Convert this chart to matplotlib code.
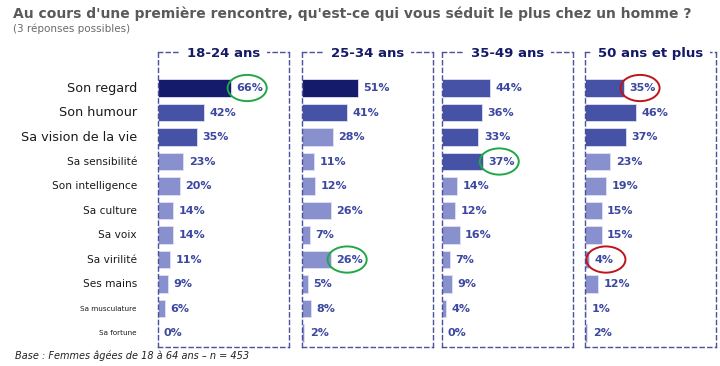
import matplotlib.pyplot as plt
from matplotlib.patches import Ellipse


CATEGORIES = [
    "Son regard", "Son humour", "Sa vision de la vie", "Sa sensibilité",
    "Son intelligence", "Sa culture", "Sa voix", "Sa virilité",
    "Ses mains", "Sa musculature", "Sa fortune",
]
GROUPS = ["18-24 ans", "25-34 ans", "35-49 ans", "50 ans et plus"]

VALUES_18_24 = [66, 42, 35, 23, 20, 14, 14, 11, 9, 6, 0]
VALUES_25_34 = [51, 41, 28, 11, 12, 26, 7, 26, 5, 8, 2]
VALUES_35_49 = [44, 36, 33, 37, 14, 12, 16, 7, 9, 4, 0]
VALUES_50_PLUS = [35, 46, 37, 23, 19, 15, 15, 4, 12, 1, 2]

# which rows are shaded dark / mid, the rest stays light
SHADES_18_24 = ["dark", "mid", "mid"] + ["light"] * 8
SHADES_25_34 = ["dark", "mid"] + ["light"] * 9
SHADES_35_49 = ["mid"] * 4 + ["light"] * 7
SHADES_50_PLUS = ["mid"] * 3 + ["light"] * 8

# (group, row, colour) of the circled labels
HIGHLIGHTS = [(0, 0, "green"), (1, 7, "green"), (2, 3, "green"), (3, 0, "red"), (3, 7, "red")]

SHADE_COLORS = {"dark": "#151b6b", "mid": "#4552a5", "light": "#8891cd"}
RING_COLORS = {"green": "#1fa847", "red": "#c0141b"}
LABEL_SIZES = [9.2, 9.2, 9.2, 7.6, 7.6, 7.6, 7.6, 7.6, 7.6, 5.2, 5.2]

W, H = 720, 366
PANEL_LEFT = [158, 302, 442, 585]
PANEL_W = 131
PANEL_TOP, PANEL_BOTTOM = 52, 347


def main() -> None:
    all_values = [VALUES_18_24, VALUES_25_34, VALUES_35_49, VALUES_50_PLUS]
    all_shades = [SHADES_18_24, SHADES_25_34, SHADES_35_49, SHADES_50_PLUS]
    rows = list(range(len(CATEGORIES)))

    fig = plt.figure(figsize=(W / 100, H / 100), dpi=100)
    fig.patch.set_facecolor("white")

    axes = []
    for i, group in enumerate(GROUPS):
        ax = fig.add_axes([PANEL_LEFT[i] / W, 1 - PANEL_BOTTOM / H,
                           PANEL_W / W, (PANEL_BOTTOM - PANEL_TOP) / H])
        vals = all_values[i]
        colors = [SHADE_COLORS[s] for s in all_shades[i]]
        ax.barh(rows, vals, height=0.73, color=colors, edgecolor="#dfe1f2", linewidth=0.6)
        for r, v in zip(rows, vals):
            ax.text(v + 5, r, f"{v}%", va="center", ha="left", fontsize=8,
                    fontweight="bold", color="#3c48a0")
        ax.set_xlim(0, 119)
        ax.set_ylim(10.57, -1.47)
        ax.set_xticks([])
        ax.set_yticks([])
        for spine in ax.spines.values():
            spine.set_linestyle((0, (3, 2.5)))
            spine.set_color("#4c5199")
            spine.set_linewidth(1.0)
        ax.text(0.5, 1.0, group, transform=ax.transAxes, ha="center", va="center_baseline",
                fontsize=9.5, fontweight="bold", color="#141a68", zorder=5,
                bbox=dict(boxstyle="square,pad=0.55", facecolor="white", edgecolor="none"))
        axes.append(ax)

    for g, r, ring in HIGHLIGHTS:
        v = all_values[g][r]
        axes[g].add_patch(Ellipse((v + 15, r), 35.5, 1.07, fill=False,
                                  edgecolor=RING_COLORS[ring], linewidth=1.4, clip_on=False, zorder=6))

    for r, cat in enumerate(CATEGORIES):
        axes[0].text(-21 / 1.1, r, cat, ha="right", va="center", fontsize=LABEL_SIZES[r],
                     color="#1a1a1a", clip_on=False)

    fig.text(13 / W, 1 - 14 / H,
             "Au cours d'une première rencontre, qu'est-ce qui vous séduit le plus chez un homme ?",
             ha="left", va="center", fontsize=10, fontweight="bold", color="#5a5a5a")
    fig.text(13 / W, 1 - 29 / H, "(3 réponses possibles)", ha="left", va="center",
             fontsize=7.5, color="#6a6a6a")
    fig.text(15 / W, 1 - 356 / H, "Base : Femmes âgées de 18 à 64 ans – n = 453",
             ha="left", va="center", fontsize=7, style="italic", color="#222222")

    fig.savefig("out.png", dpi=100, facecolor="white")
    plt.close(fig)


if __name__ == "__main__":
    main()
